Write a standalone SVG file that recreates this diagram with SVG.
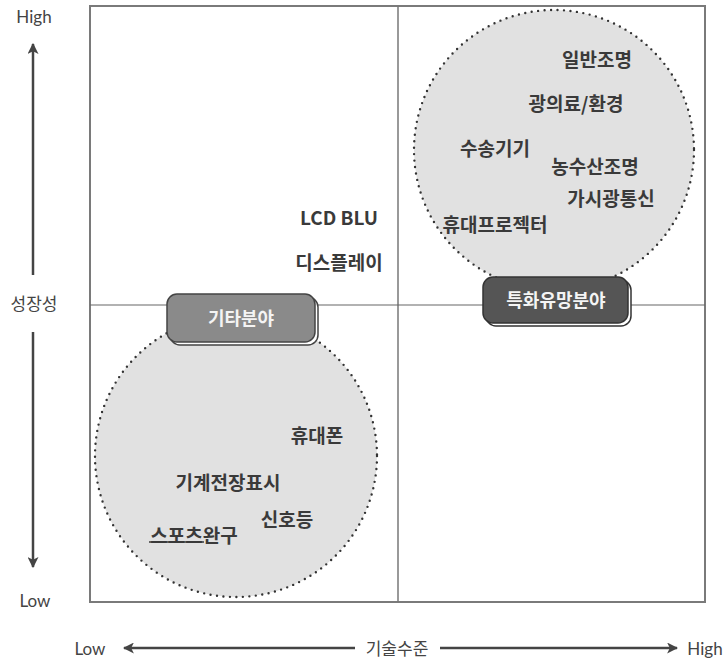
<svg xmlns="http://www.w3.org/2000/svg" width="724" height="659" viewBox="0 0 724 659">
<defs>
<marker id="ah" viewBox="0 0 10 10" refX="9" refY="5" markerWidth="11" markerHeight="11" markerUnits="userSpaceOnUse" orient="auto">
<path d="M0,0 L10,5 L0,10 L2.5,5 Z" fill="#444"/>
</marker>
<style>
.lbl{font-family:"Noto Sans CJK KR","Noto Sans",sans-serif;font-size:19px;font-weight:700;fill:#3a3a3a;text-anchor:middle;dominant-baseline:central}
.ax{font-family:"Lato","Noto Sans CJK KR",sans-serif;font-size:17px;fill:#444;text-anchor:middle;dominant-baseline:central}
.axk{font-family:"Noto Sans CJK KR",sans-serif;font-size:17px;fill:#444;text-anchor:middle;dominant-baseline:central}
.circ{fill:#e1e1e1;stroke:#333;stroke-width:2.4;stroke-dasharray:0 6.5;stroke-linecap:round}
.badge-t{font-family:"Noto Sans CJK KR",sans-serif;font-size:18px;font-weight:700;fill:#f4f4f4;text-anchor:middle;dominant-baseline:central}
</style>
</defs>
<rect width="724" height="659" fill="#fff"/>
<g id="circles">
<circle class="circ" cx="554" cy="150" r="140"/>
<circle class="circ" cx="236" cy="456" r="141"/>
</g>
<g id="frame">
<rect x="90" y="6" width="615" height="596" fill="none" stroke="#7a7a7a" stroke-width="2"/>
<line x1="398" y1="6" x2="398" y2="602" stroke="#777" stroke-width="1.5"/>
<line x1="90" y1="305" x2="705" y2="305" stroke="#666" stroke-width="1.2"/>
</g>
<g id="connectors" stroke="#444" stroke-width="2.5" fill="none">
<line x1="33" y1="275" x2="33" y2="44" marker-end="url(#ah)"/>
<line x1="33" y1="332" x2="33" y2="567" marker-end="url(#ah)"/>
<line x1="355" y1="648" x2="124" y2="648" marker-end="url(#ah)"/>
<line x1="440" y1="648" x2="677" y2="648" marker-end="url(#ah)"/>
</g>
<g id="axis-labels">
<text class="ax" x="34" y="16">High</text>
<text class="ax" x="35" y="600">Low</text>
<text class="axk" x="34" y="302">성장성</text>
<text class="ax" x="90" y="648">Low</text>
<text class="axk" x="397" y="647">기술수준</text>
<text class="ax" x="705" y="648">High</text>
</g>
<g id="badge-other">
<rect x="170" y="297" width="148" height="48" rx="10" fill="#fff" stroke="#444" stroke-width="1.5"/>
<rect x="167" y="294" width="148" height="48" rx="10" fill="#8a8a8a" stroke="#444" stroke-width="1.5"/>
<text class="badge-t" x="241" y="317">기타분야</text>
</g>
<g id="badge-promising">
<rect x="486" y="280" width="145" height="46" rx="10" fill="#fff" stroke="#333" stroke-width="1.5"/>
<rect x="483" y="277" width="145" height="46" rx="10" fill="#555" stroke="#333" stroke-width="1.5"/>
<text class="badge-t" x="556" y="299">특화유망분야</text>
</g>
<g id="upper-items">
<text class="lbl" x="597" y="58">일반조명</text>
<text class="lbl" x="576" y="102">광의료/환경</text>
<text class="lbl" x="495" y="147">수송기기</text>
<text class="lbl" x="595" y="165">농수산조명</text>
<text class="lbl" x="611" y="197">가시광통신</text>
<text class="lbl" x="495" y="223">휴대프로젝터</text>
</g>
<g id="middle-items">
<text class="lbl" x="339" y="216">LCD BLU</text>
<text class="lbl" x="339" y="261">디스플레이</text>
</g>
<g id="lower-items">
<text class="lbl" x="317" y="434">휴대폰</text>
<text class="lbl" x="228" y="481">기계전장표시</text>
<text class="lbl" x="287" y="518">신호등</text>
<text class="lbl" x="194" y="534">스포츠완구</text>
<line x1="149" y1="542" x2="204" y2="542" stroke="#3a3a3a" stroke-width="1.5"/>
</g>
</svg>
